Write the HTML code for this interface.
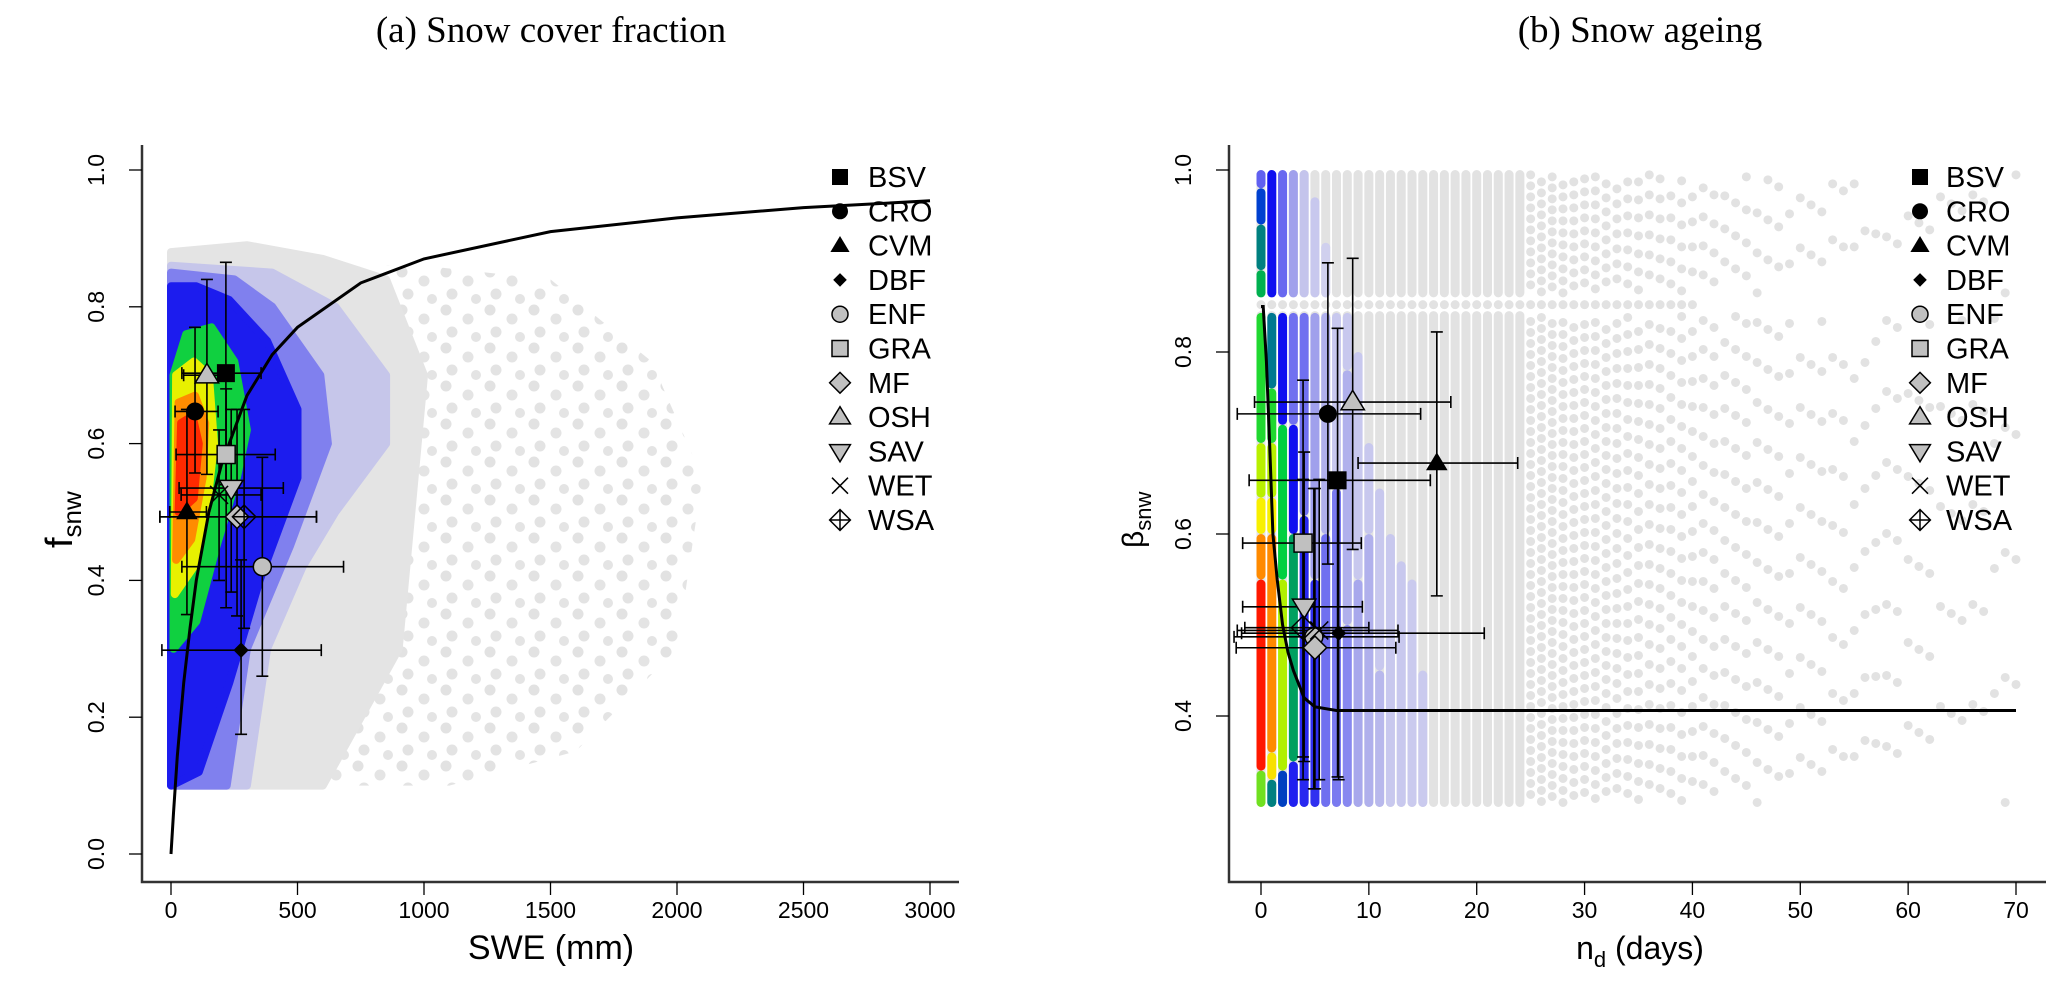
<!DOCTYPE html>
<html><head><meta charset="utf-8">
<style>
html,body{margin:0;padding:0;background:#fff;}
svg{display:block;}
text{font-family:"Liberation Sans",sans-serif;}
.ttl{font-family:"Liberation Serif",serif;font-size:37px;}
</style></head>
<body>
<svg id="fig" width="2067" height="992" viewBox="0 0 2067 992" xmlns="http://www.w3.org/2000/svg">
<defs>
<pattern id="grayDots" width="44" height="38" patternUnits="userSpaceOnUse">
<circle cx="6" cy="6" r="5.5" fill="#e2e2e2"/><circle cx="28" cy="15" r="5.5" fill="#e4e4e4"/><circle cx="12" cy="28" r="5.5" fill="#e3e3e3"/><circle cx="36" cy="33" r="5" fill="#e4e4e4"/>
</pattern>
</defs>
<text class="ttl" x="551" y="42" text-anchor="middle">(a) Snow cover fraction</text>
<text class="ttl" x="1640" y="42" text-anchor="middle">(b) Snow ageing</text>
<g id="pa"></g>
<g id="pb"></g>
</svg>
<script>
// ---------- Panel A data ----------
const aXTicks=[0,500,1000,1500,2000,2500,3000];
const aYTicks=[0.0,0.2,0.4,0.6,0.8,1.0];
const aCurveX=[0,10,25,50,75,100,150,200,300,400,500,750,1000,1500,2000,2500,3000];
const aCurveY=[0,0.06,0.143,0.25,0.33,0.40,0.50,0.57,0.67,0.73,0.77,0.835,0.87,0.91,0.93,0.945,0.955];
const aGrayDense=[[0,0.1],[600,0.1],[750,0.2],[900,0.3],[950,0.5],[1000,0.7],[850,0.84],[600,0.87],[300,0.89],[0,0.88]];
const aGraySparse=[[600,0.1],[1100,0.1],[1600,0.15],[2000,0.3],[2100,0.55],[1900,0.72],[1500,0.84],[1000,0.86],[600,0.86]];
const aLav=[[0,0.1],[300,0.1],[380,0.3],[520,0.42],[650,0.5],[850,0.6],[850,0.7],[650,0.8],[400,0.85],[0,0.86]];
const aMblue=[[0,0.1],[220,0.1],[300,0.3],[470,0.45],[620,0.6],[590,0.7],[400,0.8],[250,0.84],[0,0.85]];
const aBlue=[[0,0.1],[110,0.12],[230,0.25],[350,0.4],[500,0.55],[500,0.65],[380,0.75],[230,0.81],[100,0.83],[0,0.83]];
const aGreen=[[10,0.3],[100,0.34],[180,0.45],[260,0.55],[300,0.62],[250,0.72],[160,0.77],[60,0.76],[10,0.7]];
const aYellow=[[15,0.38],[90,0.42],[140,0.5],[170,0.6],[150,0.7],[90,0.72],[20,0.7]];
const aOrange=[[20,0.43],[80,0.46],[125,0.55],[135,0.63],[95,0.67],[30,0.66]];
const aRed=[[30,0.5],[90,0.52],[110,0.6],[85,0.64],[40,0.63]];
const aNames=["BSV","CRO","CVM","DBF","ENF","GRA","MF","OSH","SAV","WET","WSA"];
const aPtX=[217,95,63,277,361,218,261,142,238,190,289];
const aPtY=[0.703,0.647,0.50,0.298,0.42,0.584,0.493,0.70,0.535,0.525,0.493];
const aXlo=[43,16,-5,-36,43,20,-44,50,32,40,-44];
const aXhi=[356,186,140,594,682,412,575,230,444,356,575];
const aYlo=[0.54,0.557,0.35,0.175,0.26,0.36,0.348,0.555,0.383,0.40,0.33];
const aYhi=[0.865,0.77,0.65,0.43,0.58,0.68,0.65,0.84,0.65,0.62,0.65];
// ---------- Panel B data ----------
const bXTicks=[0,10,20,30,40,50,60,70];
const bYTicks=[0.4,0.6,0.8,1.0];
const bCurveX=[0,0.2,0.5,0.8,1.1,1.5,2,2.5,3,4,5,7,10,70];
const bCurveY=[0.85,0.85,0.79,0.70,0.60,0.55,0.50,0.47,0.45,0.42,0.41,0.406,0.406,0.406];
const bGrayDays=[0,1,2,3,4,5,6,7,8,9,10,11,12,13,14,15,16,17,18,19,20,21,22,23,24,25,26,27,28,29,30,31,32,33,34,35,36,37,38,39,40,41,42,43,44,45,46,47,48,49,50,51,52,53,54,55,56,57,58,59,60,61,62,63,64,65,66,67,68,69,70];
const bGrayDensity=[1,1,1,1,1,1,1,1,1,1,1,1,1,1,1,1,1,1,1,1,1,1,1,1,1,0.95,0.9,0.9,0.85,0.8,0.8,0.7,0.7,0.65,0.6,0.55,0.5,0.5,0.45,0.45,0.4,0.35,0.35,0.3,0.3,0.3,0.25,0.25,0.25,0.2,0.2,0.2,0.2,0.18,0.18,0.16,0.16,0.15,0.14,0.14,0.12,0.12,0.12,0.1,0.1,0.1,0.1,0.1,0.08,0.08,0.08];
const bSegDay=[0,0,0,0,0,0,0,0,0,0, 1,1,1,1,1,1,1,1, 2,2,2,2,2, 3,3,3,3,3, 4,4,4, 5,5,5, 6,6,6, 7,7, 8,8,8, 9,9, 10,10, 11,11, 12,13,14,15];
const bSegLo=[0.30,0.34,0.55,0.60,0.64,0.70,0.86,0.89,0.94,0.98, 0.30,0.33,0.36,0.60,0.64,0.70,0.76,0.86, 0.30,0.34,0.55,0.72,0.86, 0.30,0.35,0.60,0.72,0.86, 0.30,0.62,0.86, 0.30,0.55,0.86, 0.30,0.60,0.86, 0.30,0.65, 0.30,0.50,0.78, 0.30,0.55, 0.30,0.60, 0.30,0.45, 0.30,0.30,0.30,0.30];
const bSegHi=[0.34,0.55,0.60,0.64,0.70,0.843,0.89,0.94,0.98,1.0, 0.33,0.36,0.60,0.64,0.70,0.76,0.843,1.0, 0.34,0.55,0.72,0.843,1.0, 0.35,0.60,0.72,0.843,1.0, 0.62,0.843,1.0, 0.55,0.843,0.97, 0.60,0.843,0.92, 0.65,0.843, 0.50,0.78,0.843, 0.55,0.80, 0.60,0.70, 0.45,0.65, 0.60,0.57,0.55,0.45];
const bSegCol=["#70e020","#ff1800","#ff8a00","#f8f000","#b8f000","#20d830","#00b050","#008080","#0040d0","#6060f0",
 "#008080","#f8e000","#ff8a00","#f8f000","#b8f000","#20d830","#007890","#1010f0",
 "#0040c0","#b0f000","#00d040","#1010f0","#6868f0",
 "#2020f0","#00a060","#1010f0","#7070f0","#a0a0ec",
 "#2828f0","#7070f0","#c4c4ec",
 "#3030f0","#a0a0ec","#c8c8ee",
 "#7070f0","#b0b0ec","#d0d0ee",
 "#7a7af0","#c8c8ee",
 "#8888f0","#b0b0ec","#c8c8ee",
 "#a8a8ec","#c8c8ee",
 "#b0b0ec","#c8c8ee",
 "#b8b8ec","#c8c8ee",
 "#c8c8ee","#c8c8ee","#cacaee","#cacaee"];
const bNames=["BSV","CRO","CVM","DBF","ENF","GRA","MF","OSH","SAV","WET","WSA"];
const bPtX=[7.1,6.2,16.3,7.2,4.9,3.9,5.0,8.5,4.0,5.4,3.9];
const bPtY=[0.659,0.732,0.678,0.491,0.487,0.59,0.475,0.745,0.52,0.494,0.497];
const bXlo=[-1.1,-2.2,9.0,-1.8,-2.5,-1.7,-2.3,-0.6,-1.7,-2.2,-1.5];
const bXhi=[15.7,14.8,23.8,20.7,12.8,9.3,12.5,17.6,9.4,12.7,10.0];
const bYlo=[0.333,0.567,0.532,0.33,0.32,0.355,0.32,0.583,0.35,0.33,0.33];
const bYhi=[0.826,0.898,0.822,0.66,0.65,0.769,0.65,0.903,0.69,0.66,0.66];

const NS="http://www.w3.org/2000/svg";
function mk(tag,attrs,parent){const e=document.createElementNS(NS,tag);for(const k in attrs)e.setAttribute(k,attrs[k]);parent.appendChild(e);return e;}

const ax=v=>171+v*(930-171)/3000, ay=v=>854-v*684;
const bx=v=>1261+v*(2016-1261)/70, by=v=>716-(v-0.4)*910;

function poly(pts,sx,sy,fill,g,name,sw){
  const p=mk('polygon',{points:pts.map(q=>sx(q[0]).toFixed(1)+','+sy(q[1]).toFixed(1)).join(' '),fill:fill,'stroke':sw===0?'none':fill,'stroke-width':8,'stroke-linejoin':'round'},g);
  
  
}
function marker(g,name,cx,cy,s){
  const blk='#000',gr='#c0c0c0';let e;
  const st={stroke:'#000','stroke-width':1.5};
  if(name==='BSV'){e=mk('rect',{x:cx-s,y:cy-s,width:2*s,height:2*s,fill:blk},g);}
  else if(name==='CRO'){e=mk('circle',{cx:cx,cy:cy,r:s,fill:blk},g);}
  else if(name==='CVM'){e=mk('polygon',{points:`${cx-s*1.2},${cy+s*0.8} ${cx+s*1.2},${cy+s*0.8} ${cx},${cy-s*1.2}`,fill:blk},g);}
  else if(name==='DBF'){const t=s*0.85;e=mk('polygon',{points:`${cx-t},${cy} ${cx},${cy-t} ${cx+t},${cy} ${cx},${cy+t}`,fill:blk},g);}
  else if(name==='ENF'){e=mk('circle',Object.assign({cx:cx,cy:cy,r:s,fill:gr},st),g);}
  else if(name==='GRA'){e=mk('rect',Object.assign({x:cx-s,y:cy-s,width:2*s,height:2*s,fill:gr},st),g);}
  else if(name==='MF'){const t=s*1.3;e=mk('polygon',Object.assign({points:`${cx-t},${cy} ${cx},${cy-t} ${cx+t},${cy} ${cx},${cy+t}`,fill:gr},st),g);}
  else if(name==='OSH'){e=mk('polygon',Object.assign({points:`${cx-s*1.3},${cy+s*0.85} ${cx+s*1.3},${cy+s*0.85} ${cx},${cy-s*1.3}`,fill:gr},st),g);}
  else if(name==='SAV'){e=mk('polygon',Object.assign({points:`${cx-s*1.3},${cy-s*0.85} ${cx+s*1.3},${cy-s*0.85} ${cx},${cy+s*1.3}`,fill:gr},st),g);}
  else if(name==='WET'){e=mk('path',{d:`M${cx-s},${cy-s}L${cx+s},${cy+s}M${cx-s},${cy+s}L${cx+s},${cy-s}`,stroke:'#000','stroke-width':1.5,fill:'none'},g);}
  else if(name==='WSA'){const t=s*1.3;e=mk('path',{d:`M${cx-t},${cy}L${cx},${cy-t}L${cx+t},${cy}L${cx},${cy+t}Z M${cx-t},${cy}L${cx+t},${cy}M${cx},${cy-t}L${cx},${cy+t}`,stroke:'#000','stroke-width':1.5,fill:'none'},g);}
  
  
}
function errbars(g,names,px,py,xlo,xhi,ylo,yhi,sx,sy){
  for(let i=0;i<names.length;i++){
    const eg=mk('g',{stroke:'#000','stroke-width':1.6,fill:'none'},g);
    
    
    const X=sx(px[i]),Y=sy(py[i]),c=6;
    mk('path',{d:`M${sx(xlo[i])},${Y}H${sx(xhi[i])}M${sx(xlo[i])},${Y-c}V${Y+c}M${sx(xhi[i])},${Y-c}V${Y+c}M${X},${sy(ylo[i])}V${sy(yhi[i])}M${X-c},${sy(ylo[i])}H${X+c}M${X-c},${sy(yhi[i])}H${X+c}`},eg);
  }
  for(let i=0;i<names.length;i++){marker(g,names[i],sx(px[i]),sy(py[i]),9);}
}
function axes(g,x0,x1,yTop,yBot,xt,yt,sx,sy){
  const a=mk('path',{d:`M${x0},${yTop}V${yBot}H${x1}`,stroke:'#333','stroke-width':2.5,fill:'none'},g);
  
  xt.forEach(v=>{const X=sx(v);mk('line',{x1:X,x2:X,y1:yBot,y2:yBot+13,stroke:'#000','stroke-width':1.3},g);
    const t=mk('text',{x:X,y:918,'text-anchor':'middle','font-size':23},g);t.textContent=String(v);
    });
  yt.forEach(v=>{const Y=sy(v);mk('line',{x1:x0,x2:x0-13,y1:Y,y2:Y,stroke:'#000','stroke-width':1.3},g);
    const t=mk('text',{x:0,y:0,'text-anchor':'middle','font-size':23,transform:`translate(${x0-38},${Y}) rotate(-90)`},g);t.textContent=v.toFixed(1);
    });
}
function legend(g,names,mx,tx,y0){
  names.forEach((n,i)=>{const y=y0+i*34.3;marker(g,n,mx,y,8);
    const t=mk('text',{x:tx,y:y+10,'font-size':29},g);t.textContent=n;
    });
}

// ---------- Panel A ----------
const A=document.getElementById('pa');
poly(aGraySparse,ax,ay,'url(#grayDots)',A,'sparse-points',0);
poly(aGrayDense,ax,ay,'#e4e4e4',A,'density-gray');
poly(aLav,ax,ay,'#c6c6ea',A,'density-lavender');
poly(aMblue,ax,ay,'#8080ee',A,'density-midblue');
poly(aBlue,ax,ay,'#1c1cee',A,'density-blue');
poly(aGreen,ax,ay,'#10d040',A,'density-green');
poly(aYellow,ax,ay,'#e8f000',A,'density-yellow');
poly(aOrange,ax,ay,'#ff8c00',A,'density-orange');
poly(aRed,ax,ay,'#ff2a00',A,'density-red');
const ca=mk('polyline',{points:aCurveX.map((v,i)=>ax(v).toFixed(1)+','+ay(aCurveY[i]).toFixed(1)).join(' '),fill:'none',stroke:'#000','stroke-width':3},A);

errbars(A,aNames,aPtX,aPtY,aXlo,aXhi,aYlo,aYhi,ax,ay);
axes(A,142,959,145,882,aXTicks,aYTicks,ax,ay);
legend(A,aNames,840,868,177);
let t=mk('text',{x:551,y:959,'text-anchor':'middle','font-size':34},A);t.textContent='SWE  (mm)';

t=mk('text',{x:0,y:0,'font-size':38,transform:'translate(72,548) rotate(-90)'},A);
t.innerHTML='f<tspan font-size="26" dy="9">snw</tspan>';


// ---------- Panel B ----------
const B=document.getElementById('pb');
bGrayDays.forEach((d,i)=>{
  const X=bx(d),den=bGrayDensity[i];
  const gap=den>=1?0:Math.round(10/den);
  const da=den>=1?'none':`0 ${gap}`;
  const off=(d*7)%23;
  const l1=mk('line',{x1:X,x2:X,y1:by(0.305),y2:by(0.84),stroke:'#e2e2e2','stroke-width':9,'stroke-linecap':'round','stroke-dasharray':da,'stroke-dashoffset':off},B);
  
  const l2=mk('line',{x1:X,x2:X,y1:by(0.865),y2:by(0.995),stroke:'#e2e2e2','stroke-width':9,'stroke-linecap':'round','stroke-dasharray':da,'stroke-dashoffset':off},B);
  
  if(den>=0.4){const c=mk('circle',{cx:X,cy:by(0.852),r:4.5,fill:'#e2e2e2'},B);
    }
});
bSegDay.forEach((d,i)=>{
  const X=bx(d);
  const r=mk('rect',{x:X-4.5,y:by(bSegHi[i]),width:9,height:by(bSegLo[i])-by(bSegHi[i]),rx:4.5,fill:bSegCol[i]},B);
  
});
const cb=mk('polyline',{points:bCurveX.map((v,i)=>bx(v).toFixed(1)+','+by(bCurveY[i]).toFixed(1)).join(' '),fill:'none',stroke:'#000','stroke-width':3},B);

errbars(B,bNames,bPtX,bPtY,bXlo,bXhi,bYlo,bYhi,bx,by);
axes(B,1229,2046,145,882,bXTicks,bYTicks,bx,by);
legend(B,bNames,1920,1946,177);
t=mk('text',{x:1640,y:959,'text-anchor':'middle','font-size':32},B);
t.innerHTML='n<tspan font-size="22" dy="8">d</tspan><tspan dy="-8"> (days)</tspan>';

t=mk('text',{x:0,y:0,'font-size':30,transform:'translate(1143,548) rotate(-90)'},B);
t.innerHTML='β<tspan font-size="22" dy="8">snw</tspan>';

</script>
</body></html>
